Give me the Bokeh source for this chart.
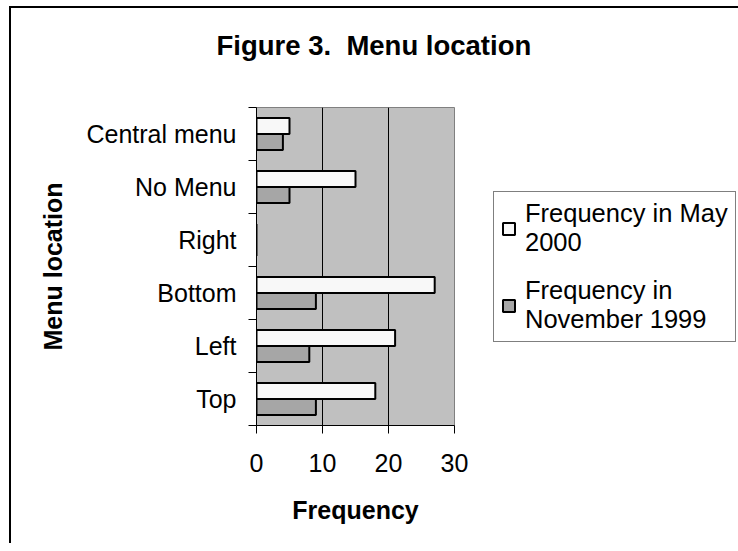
from bokeh.plotting import figure
from bokeh.layouts import column
from bokeh.models import Range1d, FixedTicker, Legend, LegendItem
from bokeh.embed import file_html
from bokeh.resources import INLINE

# ---- data ----
categories = ["Top", "Left", "Bottom", "Right", "No Menu", "Central menu"]
may_2000 = [18, 21, 27, 0, 15, 5]
nov_1999 = [9, 8, 9, 0, 5, 4]
x_ticks = [0, 10, 20, 30]
series_names = ["Frequency in May\n2000", "Frequency in\nNovember 1999"]
title_text = "Figure 3.\u00a0 Menu location\n"
x_label = "Frequency"
y_label = "Menu location"

FONT = "Liberation Sans"
n = len(categories)
centers = [i + 0.5 for i in range(n)]
bar_h = 0.3

p = figure(frame_width=198, frame_height=318, output_backend="svg", toolbar_location=None,
           x_range=Range1d(x_ticks[0], x_ticks[-1]), y_range=Range1d(0, n),
           min_border_left=245, min_border_right=295, min_border_top=99, min_border_bottom=118,
           background_fill_color="#C0C0C0", border_fill_color="white",
           outline_line_color="#808080", outline_line_width=1)

r1 = p.hbar(y=[c + bar_h / 2 for c in centers], left=0, right=may_2000, height=bar_h,
            fill_color="#F8F8F8", line_color="black", line_width=2)
r2 = p.hbar(y=[c - bar_h / 2 for c in centers], left=0, right=nov_1999, height=bar_h,
            fill_color="#A6A6A6", line_color="black", line_width=2)

# title
p.title.text = title_text
p.title.text_font = FONT
p.title.text_font_size = "27.5px"
p.title.text_font_style = "bold"
p.title.text_color = "black"
p.title.align = "left"
p.title.offset = -40
p.title.standoff = 32

# x axis
xa = p.xaxis[0]
xa.ticker = FixedTicker(ticks=x_ticks)
xa.major_tick_out = 8
xa.major_tick_in = 0
xa.minor_tick_line_color = None
xa.axis_line_color = "black"
xa.major_tick_line_color = "black"
xa.major_label_text_font = FONT
xa.major_label_text_font_size = "25px"
xa.major_label_text_color = "black"
xa.major_label_standoff = 20
xa.axis_label = x_label
xa.axis_label_text_font = FONT
xa.axis_label_text_font_size = "25px"
xa.axis_label_text_font_style = "bold"
xa.axis_label_text_color = "black"
xa.axis_label_standoff = 21

# y axis
ya = p.yaxis[0]
ya.ticker = FixedTicker(ticks=centers, minor_ticks=list(range(n + 1)))
ya.major_label_overrides = {c: cat for c, cat in zip(centers, categories)}
ya.major_tick_line_color = None
ya.major_tick_out = 8
ya.major_tick_in = 0
ya.minor_tick_line_color = "black"
ya.minor_tick_out = 8
ya.minor_tick_in = 0
ya.axis_line_color = "black"
ya.major_label_text_font = FONT
ya.major_label_text_font_size = "25px"
ya.major_label_text_color = "black"
ya.major_label_standoff = 12
ya.axis_label = y_label
ya.axis_label_text_font = FONT
ya.axis_label_text_font_size = "25px"
ya.axis_label_text_font_style = "bold"
ya.axis_label_text_color = "black"
ya.axis_label_standoff = 16

# grid
p.ygrid.grid_line_color = None
p.xgrid.ticker = FixedTicker(ticks=x_ticks[1:-1])
p.xgrid.grid_line_color = "black"
p.xgrid.grid_line_width = 1

legend = Legend(items=[LegendItem(label=series_names[0], renderers=[r1]),
                       LegendItem(label=series_names[1], renderers=[r2])],
                location=(39, 83))
legend.border_line_color = "black"
legend.border_line_width = 1
legend.background_fill_color = "white"
legend.background_fill_alpha = 1
legend.padding = 7
legend.spacing = 19
legend.margin = 0
legend.glyph_width = 15
legend.glyph_height = 15
legend.label_standoff = 9
legend.label_text_font = FONT
legend.label_text_font_size = "25.5px"
legend.label_text_color = "black"
p.add_layout(legend, "right")

page = column(p, styles={"border-left": "2px solid black", "border-top": "2px solid black",
                         "margin-left": "9px", "margin-top": "6px",
                         "overflow": "hidden"})

open("out.html", "w").write(file_html(page, INLINE))
